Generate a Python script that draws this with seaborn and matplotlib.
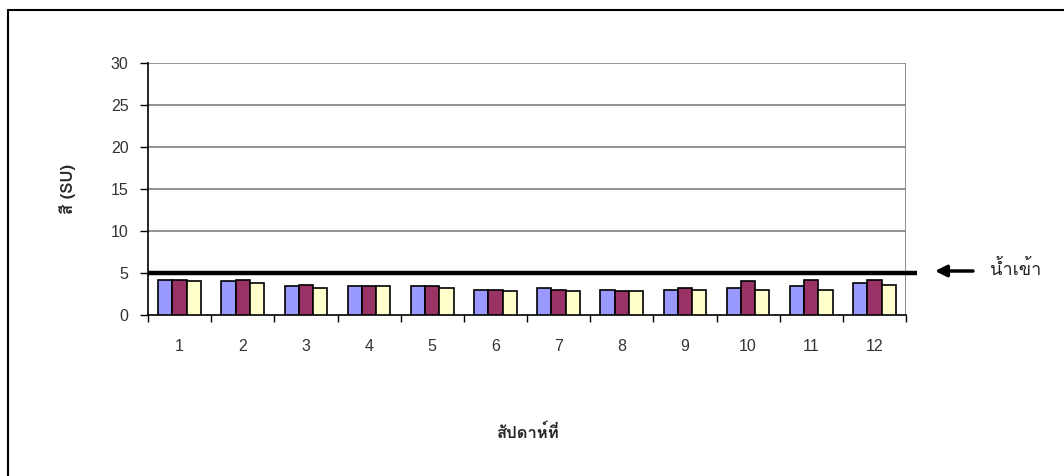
import matplotlib
matplotlib.use("Agg")
import matplotlib.pyplot as plt
from matplotlib import font_manager
from matplotlib.ft2font import FT2Font
from matplotlib.lines import Line2D
import seaborn as sns
import pandas as pd
import numpy as np

# Weekly colour readings (SU) for the three sampling points
weeks = [str(i) for i in range(1, 13)]
series_names = ["A", "B", "C"]
values_a = [4.2, 4.0, 3.4, 3.4, 3.4, 3.0, 3.2, 3.0, 3.0, 3.2, 3.4, 3.8]
values_b = [4.2, 4.2, 3.6, 3.4, 3.4, 3.0, 3.0, 2.8, 3.2, 4.0, 4.2, 4.2]
values_c = [4.0, 3.8, 3.2, 3.4, 3.2, 2.8, 2.8, 2.8, 3.0, 3.0, 3.0, 3.6]
inflow_level = 5
yticks = [0, 5, 10, 15, 20, 25, 30]

colors = ["#9999FF", "#993366", "#FFFFCC"]


def thai_font():
    """Return the name of an installed font that carries Thai glyphs."""
    for f in font_manager.fontManager.ttflist:
        try:
            cmap = FT2Font(f.fname).get_charmap()
        except Exception:
            continue
        if 0x0E2A in cmap and 0x0E49 in cmap:
            return f.name
    return "DejaVu Sans"


sns.set_theme(style="white")
thai = thai_font()
plt.rcParams["font.family"] = ["Liberation Sans", thai, "DejaVu Sans"]

df = pd.DataFrame({
    "week": weeks * 3,
    "series": np.repeat(series_names, len(weeks)),
    "value": values_a + values_b + values_c,
})

fig = plt.figure(figsize=(10.64, 4.76), dpi=100)
ax = fig.add_axes([148 / 1064, 161 / 476, 758 / 1064, 252 / 476])

sns.barplot(data=df, x="week", y="value", hue="series", palette=colors,
            saturation=1, width=0.675, gap=0, edgecolor="black",
            linewidth=1.2, legend=False, ax=ax, zorder=3)

ax.set_xlim(-0.5, len(weeks) - 0.5)
ax.set_ylim(0, 30)
ax.set_yticks(yticks)
ax.set_yticklabels([str(t) for t in yticks], fontsize=11.5, color="#333333")

# category labels at centres, tick marks at category boundaries
ax.set_xticks(range(len(weeks)))
ax.set_xticklabels(weeks, fontsize=11.5, color="#333333")
ax.set_xticks(np.arange(-0.5, len(weeks)), minor=True)
ax.tick_params(axis="x", which="major", length=0, pad=17)
ax.tick_params(axis="x", which="minor", length=5, width=1, color="black",
               direction="out", bottom=True)
ax.tick_params(axis="y", which="major", length=6, width=1, color="black",
               direction="out", left=True, pad=8)

# horizontal gridlines
for t in yticks[1:]:
    ax.axhline(t, color="#808080", lw=1.2, zorder=1)

for side in ["top", "right"]:
    ax.spines[side].set_visible(False)
ax.spines["left"].set_color("black")
ax.spines["left"].set_linewidth(1.2)
ax.spines["bottom"].set_color("black")
ax.spines["bottom"].set_linewidth(1.2)
ax.axvline(len(weeks) - 0.5, color="#808080", lw=2, zorder=1)

# inflow reference line, running slightly past the plot frame
ax.plot([-0.5, 11.67], [inflow_level, inflow_level], color="black", lw=3.2,
        clip_on=False, zorder=4, solid_capstyle="butt")

ax.annotate("", xy=(935 / 1064, 205 / 476), xytext=(973 / 1064, 205 / 476),
            xycoords="figure fraction", textcoords="figure fraction",
            arrowprops=dict(arrowstyle="-|>", color="black", lw=2.5,
                            mutation_scale=17, shrinkA=0, shrinkB=0))
fig.text(990 / 1064, 207 / 476, "น้ำเข้า", fontsize=13, ha="left", va="center",
         family=[thai, "DejaVu Sans"], color="#222222")

ax.set_xlabel("สัปดาห์ที่", fontsize=12, fontweight="bold",
              family=[thai, "DejaVu Sans"], labelpad=50)
ax.set_ylabel("สี (SU)", fontsize=12, fontweight="bold",
              family=[thai, "Liberation Sans", "DejaVu Sans"], labelpad=25)

# chart frame: left and top edges
fig.add_artist(Line2D([7.5 / 1064, 7.5 / 1064], [0, 1 - 10 / 476],
                      transform=fig.transFigure, color="black", lw=1.5))
fig.add_artist(Line2D([7.5 / 1064, 1], [1 - 10 / 476, 1 - 10 / 476],
                      transform=fig.transFigure, color="black", lw=1.5))

fig.savefig("out.png", dpi=100, facecolor="white")
